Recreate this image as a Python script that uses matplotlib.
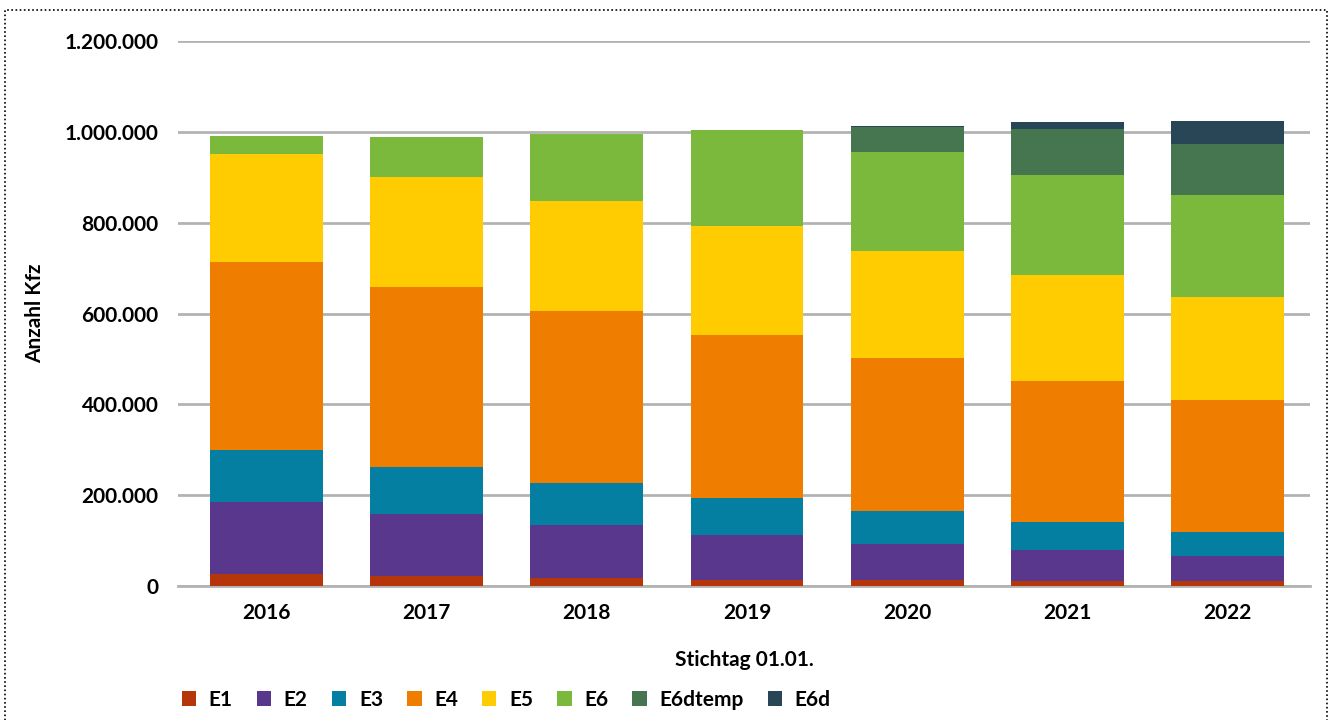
import matplotlib
matplotlib.use("Agg")
import matplotlib.pyplot as plt
import numpy as np
from matplotlib.patches import Rectangle
from matplotlib.ticker import FuncFormatter

# Kfz-Bestand nach Schadstoffklasse, Stichtag jeweils 01.01.
jahre = ["2016", "2017", "2018", "2019", "2020", "2021", "2022"]
klassen = ["E1", "E2", "E3", "E4", "E5", "E6", "E6dtemp", "E6d"]

e1 = [26800, 23100, 18700, 14300, 12600, 10400, 10400]
e2 = [157200, 134500, 114600, 97000, 79300, 68500, 55000]
e3 = [114600, 103500, 92600, 81500, 72600, 61600, 52900]
e4 = [414300, 396700, 379000, 359200, 337000, 310400, 290800]
e5 = [238000, 242200, 242400, 240200, 235700, 233500, 226900]
e6 = [39600, 88300, 147600, 211500, 218100, 220200, 224600]
e6dtemp = [0, 0, 0, 0, 55700, 101400, 112400]
e6d = [0, 0, 0, 0, 2200, 15400, 50600]

farben = ["#b5360a", "#58378c", "#057fa1", "#ef7d00", "#fecc00",
          "#7ab93b", "#45764f", "#284656"]

plt.rcParams["font.family"] = ["Lato", "DejaVu Sans"]
plt.rcParams["font.weight"] = "bold"
fs = 15

fig = plt.figure(figsize=(13.3, 7.2), dpi=100)
W, H = 1330, 720
ax = fig.add_axes([178 / W, 1 - 586 / H, (1310 - 178) / W, (586 - 41) / H])

x = np.arange(len(jahre))
bottom = np.zeros(len(jahre))
for name, werte, farbe in zip(klassen, [e1, e2, e3, e4, e5, e6, e6dtemp, e6d], farben):
    werte = np.array(werte, dtype=float)
    ax.bar(x, werte, width=0.705, bottom=bottom, color=farbe, label=name, zorder=3)
    bottom += werte

ax.set_xlim(-0.5525, 6.515)
ax.set_ylim(0, 1200000)
ax.set_yticks(np.arange(0, 1200001, 200000))
ax.yaxis.set_major_formatter(FuncFormatter(lambda v, p: f"{int(v):,}".replace(",", ".")))
ax.set_xticks(x)
ax.set_xticklabels(jahre)
ax.tick_params(axis="both", length=0, labelsize=fs)
ax.tick_params(axis="y", pad=14)
ax.tick_params(axis="x", pad=12)
for lbl in ax.get_xticklabels() + ax.get_yticklabels():
    lbl.set_fontweight("bold")

ax.grid(axis="y", color="#b3b3b3", linewidth=2, zorder=0)
for s in ["top", "right", "left"]:
    ax.spines[s].set_visible(False)
ax.spines["bottom"].set_color("#b3b3b3")
ax.spines["bottom"].set_linewidth(2)

fig.text(35 / W, 1 - 313 / H, "Anzahl Kfz", rotation=90, ha="center", va="center",
         fontsize=fs, fontweight="bold")
fig.text(744 / W, 1 - 660 / H, "Stichtag 01.01.", ha="center", va="center",
         fontsize=fs, fontweight="bold")

fig.legend(loc="center left", bbox_to_anchor=(163 / W, 1 - 700 / H), ncol=8, frameon=False,
           handlelength=0.7, handleheight=0.7, handletextpad=0.6,
           columnspacing=1.15, prop={"weight": "bold", "size": fs})

# gepunkteter Rahmen
fig.patches.append(Rectangle((5 / W, -0.05), 1322 / W, 1 - 10 / H + 0.05, transform=fig.transFigure,
                             fill=False, edgecolor="black", linestyle=(0, (1, 1.5)), linewidth=1.2))

fig.savefig("out.png", dpi=100)
